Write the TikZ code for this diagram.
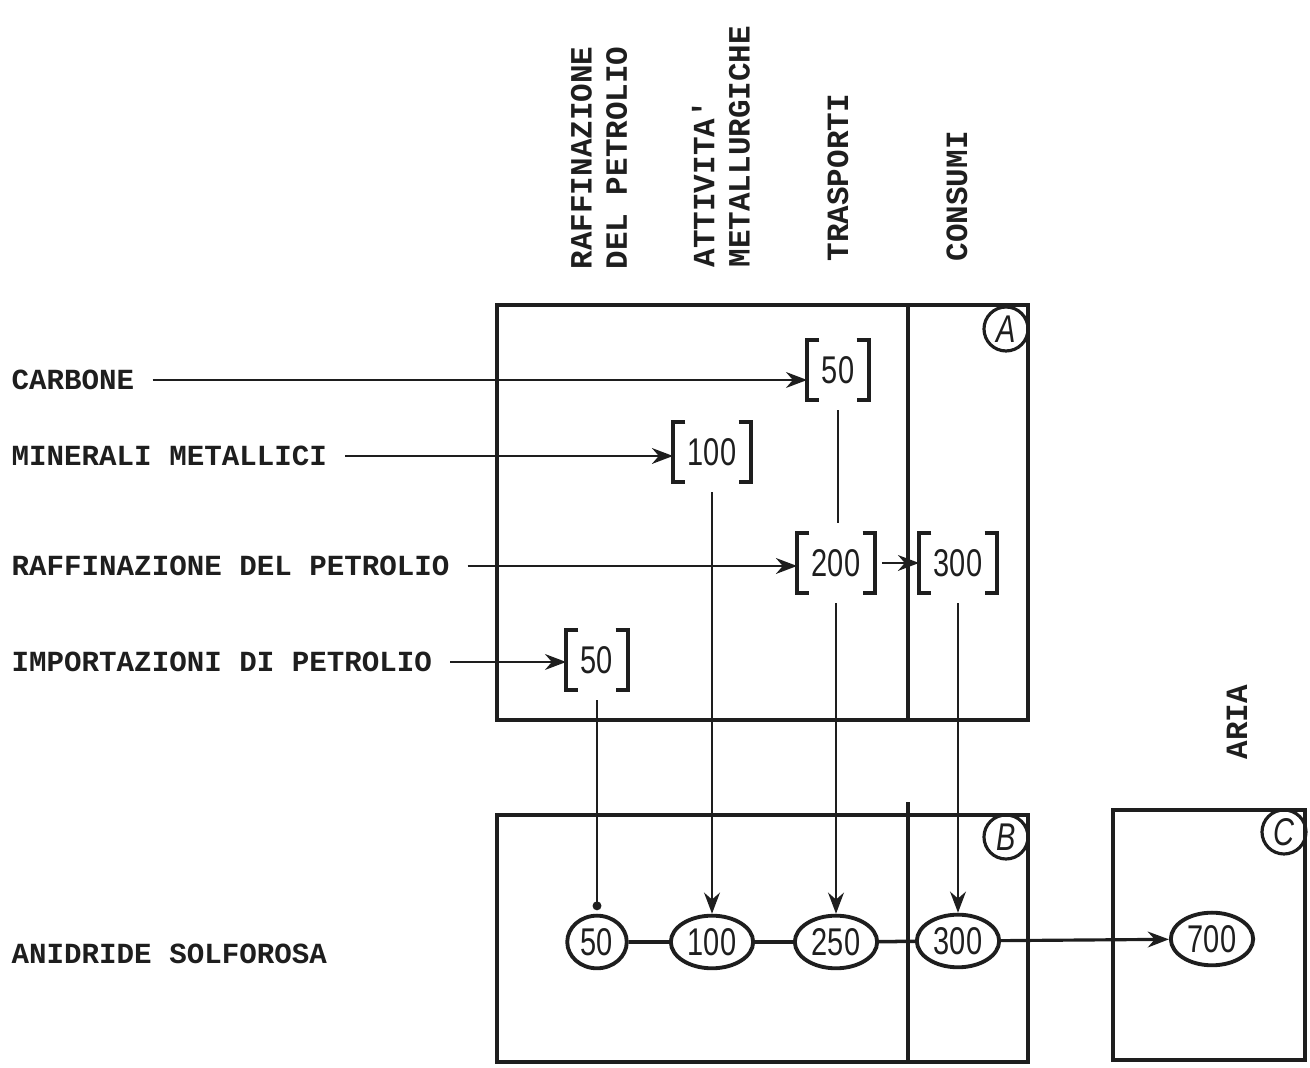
\documentclass[tikz,border=0pt]{standalone}
\usepackage{fontspec}
\setmonofont{Liberation Mono}
\newfontfamily\numfont[FakeStretch=0.75]{Liberation Sans}
\usepackage{tikz}
\usetikzlibrary{arrows.meta, positioning, calc, shapes.geometric}
\definecolor{kink}{HTML}{1E1E1E}

\begin{document}
\begin{tikzpicture}[x=1cm, y=1cm,
  lbl/.style={font=\fontsize{8.3}{10}\selectfont\ttfamily\bfseries, text=kink, anchor=west, inner sep=2pt},
  hdr/.style={font=\fontsize{8.8}{10}\selectfont\ttfamily\bfseries, text=kink, rotate=90, anchor=west, align=left, inner sep=0pt},
  brk/.style={font=\fontsize{11}{12}\selectfont\numfont, text=kink, minimum height=0.58cm, inner xsep=4pt},
  val/.style={ellipse, draw=kink, line width=1.1pt, font=\fontsize{11}{12}\selectfont\numfont, text=kink, inner sep=1.4pt, minimum height=0.52cm},
  tag/.style={circle, draw=kink, line width=0.9pt, font=\fontsize{11}{12}\selectfont\numfont\itshape, text=kink, minimum size=0.44cm, inner sep=0pt},
  box/.style={draw=kink, line width=1.2pt},
  link/.style={draw=kink, line width=0.7pt},
  flow/.style={link, -{Stealth[length=6pt, width=4.5pt]}}]
\useasboundingbox (0,0) rectangle (13.1,10.68);

% column headers
\node[hdr] (h1) at (5.99,7.98) {RAFFINAZIONE\\DEL PETROLIO};
\node[hdr] (h2) at (7.21,8.00) {ATTIVITA'\\METALLURGICHE};
\node[hdr] (h3) at (8.38,8.06) {TRASPORTI};
\node[hdr] (h4) at (9.57,8.06) {CONSUMI};
\node[hdr] (h5) at (12.37,3.08) {ARIA};

% sectors
\draw[box] (4.97,3.48) rectangle (10.28,7.63);
\draw[box] (9.08,3.48) -- (9.08,7.63);
\draw[box] (4.97,0.06) rectangle (10.28,2.53);
\draw[box] (9.08,0.06) -- (9.08,2.66);
\draw[box] (11.13,0.08) rectangle (13.05,2.58);
\node[tag] (ta) at (10.06,7.39) {A};
\node[tag] (tb) at (10.06,2.31) {B};
\node[tag] (tc) at (12.84,2.36) {C};

% row labels
\node[lbl] (carbone) at (0.04,6.88) {CARBONE};
\node[lbl] (minerali) at (0.04,6.12) {MINERALI METALLICI};
\node[lbl] (raffin) at (0.04,5.02) {RAFFINAZIONE DEL PETROLIO};
\node[lbl] (import) at (0.04,4.06) {IMPORTAZIONI DI PETROLIO};
\node[lbl] (anidride) at (0.04,1.14) {ANIDRIDE SOLFOROSA};

% inputs
\node[brk] (c50) at (8.38,6.98) {50};
\node[brk] (m100) at (7.12,6.16) {100};
\node[brk] (r200) at (8.36,5.05) {200};
\node[brk] (r300) at (9.58,5.05) {300};
\node[brk] (i50) at (5.97,4.08) {50};
\foreach \n in {c50, m100, r200, r300, i50} {
  \draw[kink, line width=1.1pt] ([xshift=3.5pt]\n.north west) -| (\n.south west) -- ++(3.5pt,0);
  \draw[kink, line width=1.1pt] ([xshift=-3.5pt]\n.north east) -| (\n.south east) -- ++(-3.5pt,0);
}

% emissions
\node[val] (e50) at (5.97,1.26) {50};
\node[val] (e100) at (7.12,1.26) {100};
\node[val] (e250) at (8.36,1.26) {250};
\node[val] (e300) at (9.58,1.27) {300};
\node[val] (e700) at (12.12,1.29) {700};

\draw[flow, shorten <=3pt] (carbone.east) -- (carbone.east -| c50.west);
\draw[flow, shorten <=3pt] (minerali.east) -- (minerali.east -| m100.west);
\draw[flow, shorten <=3pt] (raffin.east) -- (raffin.east -| r200.west);
\draw[flow, shorten <=3pt] (import.east) -- (import.east -| i50.west);
\draw[flow, shorten <=2pt] (r200.east) -- (r300.west);

\draw[link, shorten <=3pt, shorten >=3pt] (c50.south) -- (c50.south |- r200.north);
\draw[flow, shorten <=3pt] (r200.south) -- (e250.north);
\draw[flow, shorten <=3pt] (m100.south) -- (e100.north);
\draw[flow, shorten <=3pt] (r300.south) -- (e300.north);
\draw[link, shorten <=3pt, shorten >=1pt, -{Circle[length=2.5pt]}] (i50.south) -- (e50.north);

\draw[kink, line width=1pt] (e50) -- (e100) -- (e250) -- (e300);
\draw[flow, line width=0.9pt] (e300) -- (e700);
\end{tikzpicture}
\end{document}
